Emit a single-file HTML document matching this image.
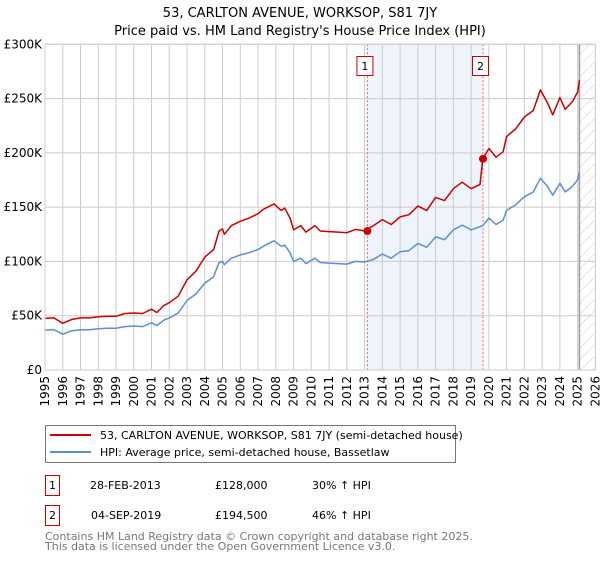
<!DOCTYPE html>
<html><head><meta charset="utf-8"><style>
body{margin:0;background:#fff;font-family:"DejaVu Sans","Liberation Sans",sans-serif;}
svg text{font-family:"DejaVu Sans","Liberation Sans",sans-serif;}
</style></head><body>
<svg id="chart" width="600" height="560" xmlns="http://www.w3.org/2000/svg">
<text x="300" y="17" text-anchor="middle" font-size="13">53, CARLTON AVENUE, WORKSOP, S81 7JY</text>
<text x="300" y="35" text-anchor="middle" font-size="13">Price paid vs. HM Land Registry's House Price Index (HPI)</text>
<g id="plot"></g>
<g>
<rect x="45.5" y="425.5" width="410" height="37" fill="#fff" stroke="#777"/>
<line x1="50" y1="435" x2="91" y2="435" stroke="#cc0000" stroke-width="2"/>
<text x="100" y="439" font-size="11">53, CARLTON AVENUE, WORKSOP, S81 7JY (semi-detached house)</text>
<line x1="50" y1="452" x2="91" y2="452" stroke="#5b8fd0" stroke-width="2"/>
<text x="100" y="456" font-size="11">HPI: Average price, semi-detached house, Bassetlaw</text>
</g>
<g font-size="11">
<rect x="45.5" y="475.5" width="14" height="20" fill="#fff" stroke="#cc0000"/>
<text x="52.5" y="489" text-anchor="middle">1</text>
<text x="90" y="489">28-FEB-2013</text><text x="215" y="489">£128,000</text><text x="312" y="489">30% ↑ HPI</text>
</g>
<g font-size="11">
<rect x="45.5" y="505.5" width="14" height="20" fill="#fff" stroke="#cc0000"/>
<text x="52.5" y="519" text-anchor="middle">2</text>
<text x="91" y="519">04-SEP-2019</text><text x="215" y="519">£194,500</text><text x="312" y="519">46% ↑ HPI</text>
</g>
<text x="45" y="540" font-size="11" fill="#777">Contains HM Land Registry data © Crown copyright and database right 2025.</text>
<text x="45" y="550" font-size="11" fill="#777">This data is licensed under the Open Government Licence v3.0.</text>
</svg>
<script>
const years=[1995,1995.5,1996,1996.5,1997,1997.5,1998,1998.5,1999,1999.5,2000,2000.5,2001,2001.3,2001.7,2002,2002.5,2003,2003.5,2004,2004.5,2004.8,2005,2005.1,2005.5,2006,2006.5,2007,2007.3,2007.9,2008.3,2008.5,2008.8,2009,2009.4,2009.7,2010.2,2010.5,2011,2011.5,2012,2012.5,2013,2013.5,2014,2014.5,2015,2015.5,2016,2016.5,2017,2017.5,2018,2018.5,2019,2019.5,2019.66,2020,2020.4,2020.8,2021,2021.5,2022,2022.5,2022.9,2023.3,2023.6,2024,2024.3,2024.7,2025,2025.1];
const hpi=[36.8,37,33,36,37,37,38,38.5,38.5,40,40.5,40,43.5,41,46,48,52.5,64,70,80,86,99,100,97,103,106,108,111,114,119,114,115,108,100,103,98,103,99,98.5,98,97.5,100,99.5,102,106.8,103,109,110,116.6,113,122.7,120,129,133.5,129,132,133,140,134,138,147,152,159.6,164,176.7,169,161,172,164,169,175,182.6];
const price=[47.5,48,43,46.5,48,48,49,49.5,49.5,52,52.5,52,56,53,59.5,62,68,83,91,104,111,128,130,125,133,137,140,144,148,153,147,149,140,129,133,127,133,128,127.5,127,126.5,129.5,128,133,138.5,134,141,143,151,147,159,156,167,173,167,171,194.5,204,196,201,215,222,233,239,258,246,235,251,240,247,256,267];
const sales=[{t:2013.16,v:128,label:"1"},{t:2019.67,v:194.5,label:"2"}];
const yTicks=[0,50,100,150,200,250,300];
const xTicks=[];for(let y=1995;y<=2026;y++)xTicks.push(y);
const X0=45,X1=595.4,Y0=370,Y1=44.3;
const xs=t=>X0+(t-1995)/(31)*(X1-X0);
const ys=v=>Y0-v/300*(Y0-Y1);
const NS="http://www.w3.org/2000/svg";
const plot=document.getElementById('plot');
function mk(tag,attrs,parent){const e=document.createElementNS(NS,tag);for(const k in attrs)e.setAttribute(k,attrs[k]);(parent||plot).appendChild(e);return e;}
// shaded range
const sh=mk('rect',{x:xs(sales[0].t),y:Y1,width:xs(sales[1].t)-xs(sales[0].t),height:Y0-Y1,fill:'#eef3fc'});


// hatch
const defs=mk('defs',{});
const pat=mk('pattern',{id:'hatch',width:8,height:8,patternUnits:'userSpaceOnUse',patternTransform:'rotate(45)'},defs);
mk('line',{x1:0,y1:0,x2:0,y2:8,stroke:'#ccc','stroke-width':1},pat);
const ht=mk('rect',{x:xs(2025.1),y:Y1,width:X1-xs(2025.1),height:Y0-Y1,fill:'url(#hatch)'});


// grid
xTicks.forEach(t=>{const g=mk('line',{x1:xs(t),x2:xs(t),y1:Y1,y2:Y0,stroke:'#cccccc'});


const lb=mk('text',{x:0,y:0,'font-size':12,'text-anchor':'end',transform:`translate(${xs(t)+4},${Y0+6}) rotate(-90)`});
lb.textContent=t;

});
yTicks.forEach(v=>{const g=mk('line',{x1:X0,x2:X1,y1:ys(v),y2:ys(v),stroke:'#cccccc'});


const lb=mk('text',{x:X0-3,y:ys(v)+4,'font-size':12,'text-anchor':'end'});
lb.textContent=v===0?'£0':'£'+v+'K';

});
const vl=mk('line',{x1:xs(2025.1),x2:xs(2025.1),y1:Y1,y2:Y0,stroke:'#999','stroke-width':1.5});


// sale lines
sales.forEach(s=>{const l=mk('line',{x1:xs(s.t),x2:xs(s.t),y1:Y1,y2:Y0,stroke:'#f06060','stroke-dasharray':'2,2'});

});
function path(arr,col,name){let d='';arr.forEach((v,i)=>{d+=(i?'L':'M')+xs(years[i]).toFixed(1)+','+ys(v).toFixed(1);});
const p=mk('path',{d:d,fill:'none',stroke:col,'stroke-width':1.5,'stroke-linejoin':'round'});

}
path(hpi,'#5b8fd0','hpi-line');
path(price,'#cc0000','price-line');
sales.forEach(s=>{const c=mk('circle',{cx:xs(s.t),cy:ys(s.v),r:4,fill:'#cc0000'});


const b=mk('rect',{x:xs(s.t)-10.5,y:56.5,width:16,height:19,fill:'#fff',stroke:'#cc0000'});


const t=mk('text',{x:xs(s.t)-2.5,y:70,'font-size':11,'text-anchor':'middle'});
t.textContent=s.label;

});
// plot border
const br=mk('rect',{x:X0,y:Y1,width:X1-X0,height:Y0-Y1,fill:'none',stroke:'#cccccc'});


</script>
</body></html>
